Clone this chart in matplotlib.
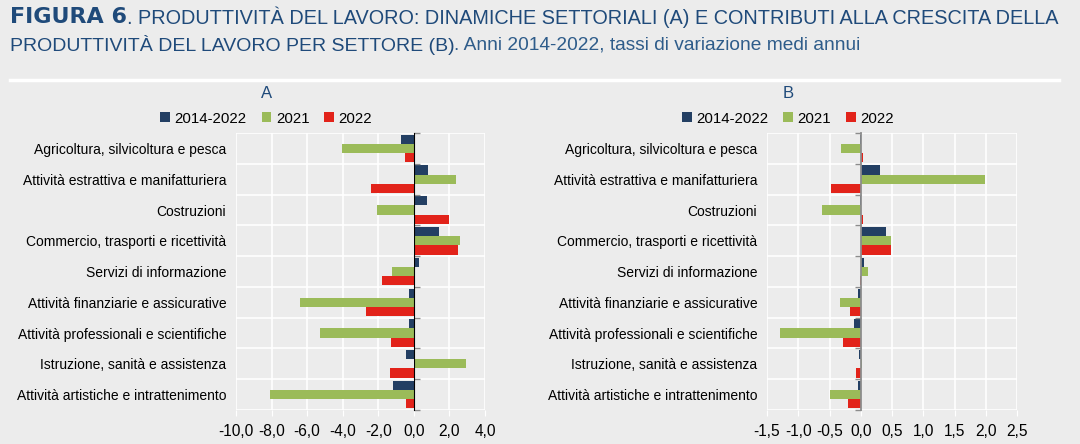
import matplotlib
matplotlib.use("Agg")
import matplotlib.pyplot as plt
import numpy as np
from matplotlib.ticker import FuncFormatter

# dati
settori = ['Agricoltura, silvicoltura e pesca', 'Attività estrattiva e manifatturiera', 'Costruzioni',
           'Commercio, trasporti e ricettività', 'Servizi di informazione',
           'Attività finanziarie e assicurative', 'Attività professionali e scientifiche',
           'Istruzione, sanità e assistenza', 'Attività artistiche e intrattenimento']
serie = ['2014-2022', '2021', '2022']

a_2014_2022 = [-0.7, 0.8, 0.75, 1.4, 0.28, -0.26, -0.26, -0.43, -1.15]
a_2021 = [-4.05, 2.4, -2.05, 2.6, -1.25, -6.4, -5.25, 2.92, -8.1]
a_2022 = [-0.5, -2.42, 1.97, 2.48, -1.78, -2.68, -1.3, -1.35, -0.45]

b_2014_2022 = [-0.01, 0.31, -0.01, 0.41, 0.05, -0.04, -0.11, -0.03, -0.05]
b_2021 = [-0.31, 1.98, -0.62, 0.48, 0.12, -0.34, -1.3, 0.02, -0.5]
b_2022 = [0.04, -0.48, 0.03, 0.48, -0.02, -0.17, -0.28, -0.07, -0.21]

xticks_a = [-10, -8, -6, -4, -2, 0, 2, 4]
xticks_b = [-1.5, -1.0, -0.5, 0.0, 0.5, 1.0, 1.5, 2.0, 2.5]

colori = ['#233f63', '#9bbb59', '#e2231a']
bg = '#ececec'
blu = '#1f4a7a'

plt.rcParams['font.family'] = ['Liberation Sans', 'DejaVu Sans']
plt.rcParams['font.size'] = 11

fig = plt.figure(figsize=(10.8, 4.44), dpi=100, facecolor=bg)

# titolo
t1 = fig.text(0.009, 0.962, 'FIGURA 6', fontsize=16, fontweight='bold', color=blu,
              family=['DejaVu Sans'], va='center')
fig.canvas.draw()
bb = t1.get_window_extent()
fig.text(bb.x1 / fig.bbox.width, 0.962, '. PRODUTTIVITÀ DEL LAVORO: DINAMICHE SETTORIALI (A) E CONTRIBUTI ALLA CRESCITA DELLA',
         fontsize=14.3, color=blu, va='center')
t2 = fig.text(0.009, 0.898, 'PRODUTTIVITÀ DEL LAVORO PER SETTORE (B)', fontsize=14, color=blu, va='center')
fig.canvas.draw()
bb2 = t2.get_window_extent()
fig.text(bb2.x1 / fig.bbox.width, 0.898, '. Anni 2014-2022, tassi di variazione medi annui',
         fontsize=13.8, color='#2e5c8a', va='center')
fig.add_artist(plt.Line2D([0.009, 0.981], [0.82, 0.82], color='white', lw=2.5, transform=fig.transFigure))

fmt = FuncFormatter(lambda v, p: f'{v:.1f}'.replace('.', ','))


def pannello(rect, valori, xlim, xticks, lettera, xlettera):
    ax = fig.add_axes(rect, facecolor=bg)
    y = np.arange(len(settori))
    h = 0.3
    for i, (vals, c) in enumerate(zip(valori, colori)):
        ax.barh(y + (i - 1) * h, vals, height=h, color=c, label=serie[i], zorder=3)
    ax.set_xlim(xlim)
    ax.set_ylim(len(settori) - 0.5, -0.5)
    ax.set_xticks(xticks)
    ax.xaxis.set_major_formatter(fmt)
    ax.set_yticks(y)
    ax.set_yticklabels(settori)
    ax.set_yticks(np.arange(len(settori) + 1) - 0.5, minor=True)
    ax.tick_params(axis='y', which='both', length=0, pad=7, labelsize=10)
    ax.tick_params(axis='x', length=4, color='white', labelsize=11.2, pad=6)
    ax.grid(True, axis='x', color='white', lw=1.2, zorder=0)
    ax.grid(True, axis='y', which='minor', color='white', lw=1.2, zorder=0)
    for s in ax.spines.values():
        s.set_visible(False)
    # asse dello zero con tacche
    pos = (0 - xlim[0]) / (xlim[1] - xlim[0])
    sec = ax.secondary_yaxis(pos)
    sec.set_yticks(np.arange(len(settori) + 1) - 0.5)
    sec.set_yticklabels([])
    sec.tick_params(length=4, color='#8c8c8c', width=1)
    sec.spines['left'].set_color('#8c8c8c')
    sec.spines['left'].set_linewidth(1.3)
    sec.set_zorder(4)
    fig.text(xlettera, 0.79, lettera, fontsize=12, color=blu, ha='center', va='center')
    leg = ax.legend(loc='lower center', bbox_to_anchor=(0.5, 1.0), ncol=3, frameon=False,
                    handlelength=0.65, handleheight=0.65, handletextpad=0.3, columnspacing=1.0,
                    fontsize=10.8, borderaxespad=0.1)
    # centra la legenda sopra l'intero pannello (etichette comprese)
    leg.set_bbox_to_anchor((xlettera, 0.70), transform=fig.transFigure)
    return ax


pannello([0.2185, 0.0766, 0.2305, 0.6234], [a_2014_2022, a_2021, a_2022], (-10, 4), xticks_a, 'A', 0.2465)
pannello([0.7102, 0.0766, 0.2315, 0.6234], [b_2014_2022, b_2021, b_2022], (-1.5, 2.5), xticks_b, 'B', 0.7295)

fig.savefig('out.png', dpi=100, facecolor=bg)
